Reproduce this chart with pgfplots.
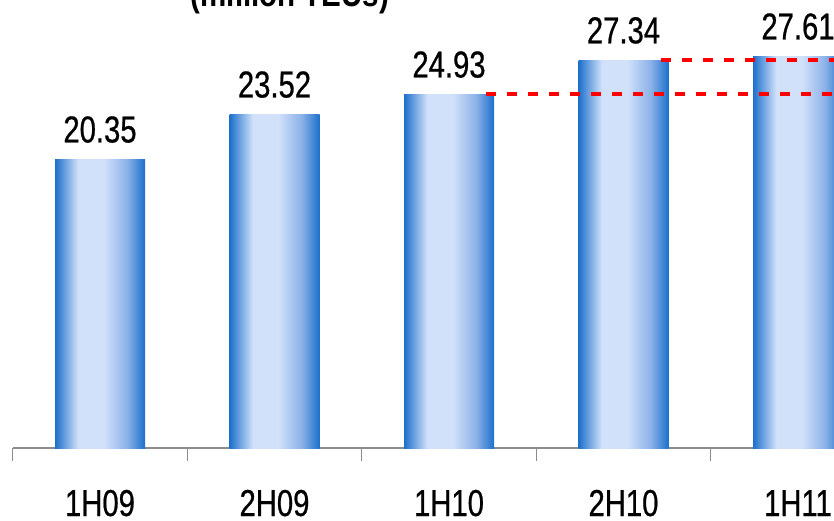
\documentclass[border=0pt]{standalone}
\usepackage{fontspec}
\setmainfont[FakeStretch=0.82]{Liberation Sans}
\newfontfamily\labfont[FakeStretch=0.78, FakeBold=0.6]{Liberation Sans}
\usepackage{pgfplots}
\pgfplotsset{compat=1.18}
\definecolor{barblue}{RGB}{28,112,204}
\definecolor{barmid}{RGB}{140,178,232}
\definecolor{barlight}{RGB}{210,225,250}
\definecolor{axisgray}{RGB}{140,140,140}
\pgfdeclarehorizontalshading{barshade}{100bp}{color(0bp)=(barblue); color(25bp)=(barblue); color(38bp)=(barlight); color(52bp)=(barlight); color(65bp)=(barmid); color(75bp)=(barblue); color(100bp)=(barblue)}

\pgfplotsset{
  gradbar/.style={ybar, bar width=90pt, bar shift=0pt, draw=none, shade, shading=barshade,
    nodes near coords, point meta=explicit symbolic,
    every node near coord/.append style={font=\labfont\fontsize{37.5}{40}\selectfont, anchor=base, inner sep=0pt, yshift=17pt}},
  reddash/.style={red, line width=4pt, dash pattern=on 10pt off 11pt},
}

\begin{document}
\begin{tikzpicture}
  \path[use as bounding box] (-100pt,-72pt) rectangle (734pt,448pt);
  \clip (-100pt,-72pt) rectangle (734pt,448pt);
  \begin{axis}[
      at={(0pt,0pt)}, anchor=origin,
      x=174.5pt, y=14.18pt,
      xmin=-0.5, xmax=4.206, ymin=0, ymax=31.6,
      axis x line=bottom, axis y line=none,
      x axis line style={-, draw=axisgray, line width=1.3pt},
      xtick={0,1,2,3,4},
      xticklabels={1H09,2H09,1H10,2H10,1H11},
      major tick length=0pt,
      minor xtick={-0.5,0.5,1.5,2.5,3.5},
      minor tick length=13pt,
      tick align=outside,
      minor tick style={draw=axisgray, line width=1.2pt},
      xticklabel style={font=\labfont\fontsize{37.5}{40}\selectfont, anchor=base, inner sep=0pt, yshift=-68pt},
    ]
    \addplot[gradbar] coordinates {(0,20.35) [20.35]};
    \addplot[gradbar] coordinates {(1,23.52) [23.52]};
    \addplot[gradbar] coordinates {(2,24.93) [24.93]};
    \addplot[gradbar] coordinates {(3,27.34) [27.34]};
    \addplot[gradbar] coordinates {(4,27.61) [27.61]};
    \addplot[reddash] coordinates {(2.212,24.93) (4.5,24.93)};
    \addplot[reddash] coordinates {(3.215,27.34) (4.5,27.34)};
  \end{axis}
  \node[anchor=base, inner sep=0pt, font=\fontsize{36}{40}\selectfont\bfseries] at (190pt,441pt) {(million TEUs)};
\end{tikzpicture}
\end{document}
